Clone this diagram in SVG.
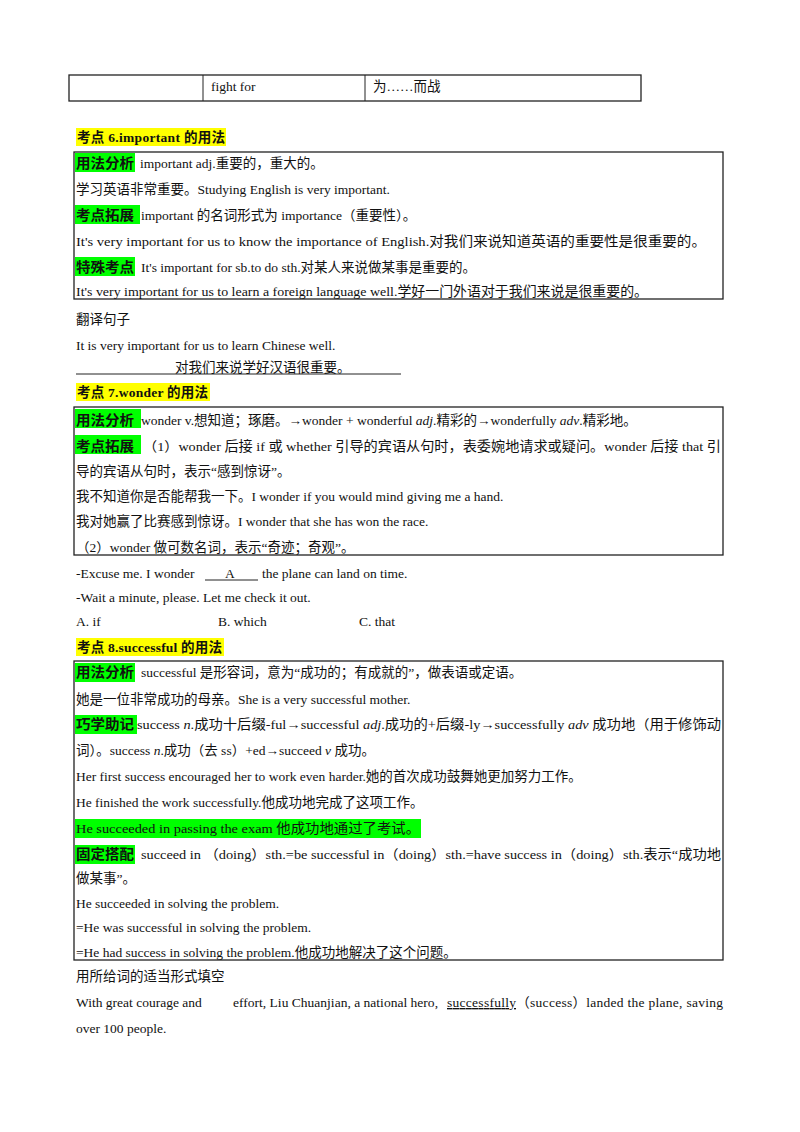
<svg xmlns="http://www.w3.org/2000/svg" width="800" height="1132" viewBox="0 0 800 1132">
<style>
text{font-family:"Liberation Serif","Noto Sans CJK SC",serif;font-size:13.5px;fill:#111}
.b{font-weight:bold}
.box{fill:none;stroke:#222;stroke-width:1.3}
.y{fill:#ffff00}
.g{fill:#00ff00}
.it{font-style:italic}
.u{text-decoration:underline}
</style>
<rect width="800" height="1132" fill="#fff"/>
<g id="table">
<rect class="box" x="69" y="75" width="572" height="26"/>
<line x1="203" y1="75" x2="203" y2="101" stroke="#222"/>
<line x1="365" y1="75" x2="365" y2="101" stroke="#222"/>
<text x="211" y="91">fight for</text>
<text x="373" y="91">为……而战</text>
</g>
<g id="sec6">
<rect class="y" x="76" y="128" width="150" height="18"/>
<text class="b" x="77" y="142" textLength="148">考点 6.important 的用法</text>
<rect class="box" x="74" y="152" width="649" height="147"/>
<rect class="g" x="75" y="153" width="60" height="19"/>
<rect class="g" x="75" y="205" width="65" height="19"/>
<rect class="g" x="75" y="257" width="60" height="19"/>
<text class="b" x="76" y="168" textLength="58" lengthAdjust="spacingAndGlyphs">用法分析</text>
<text x="140" y="168">important adj.重要的，重大的。</text>
<text x="76" y="194">学习英语非常重要。Studying English is very important.</text>
<text class="b" x="76" y="220" textLength="58" lengthAdjust="spacingAndGlyphs">考点拓展</text>
<text x="141" y="220">important 的名词形式为 importance（重要性）。</text>
<text x="76" y="246" textLength="630" lengthAdjust="spacingAndGlyphs">It's very important for us to know the importance of English.对我们来说知道英语的重要性是很重要的。</text>
<text class="b" x="76" y="272" textLength="58" lengthAdjust="spacingAndGlyphs">特殊考点</text>
<text x="141" y="272">It's important for sb.to do sth.对某人来说做某事是重要的。</text>
<text x="76" y="296" textLength="572" lengthAdjust="spacingAndGlyphs">It's very important for us to learn a foreign language well.学好一门外语对于我们来说是很重要的。</text>
<text x="76" y="324">翻译句子</text>
<text x="76" y="350">It is very important for us to learn Chinese well.</text>
<line x1="76" y1="374" x2="401" y2="374" stroke="#222"/>
<text x="175" y="372">对我们来说学好汉语很重要。</text>
</g>
<g id="sec7">
<rect class="y" x="76" y="383" width="134" height="18"/>
<text class="b" x="77" y="397" textLength="131">考点 7.wonder 的用法</text>
<rect class="box" x="74" y="407" width="649" height="148"/>
<rect class="g" x="75" y="409" width="66" height="19"/>
<rect class="g" x="75" y="435" width="66" height="19"/>
<text class="b" x="76" y="425" textLength="58" lengthAdjust="spacingAndGlyphs">用法分析</text>
<text x="141" y="425">wonder v.想知道；琢磨。→wonder + wonderful <tspan class="it">adj</tspan>.精彩的→wonderfully <tspan class="it">adv</tspan>.精彩地。</text>
<text class="b" x="76" y="451" textLength="58" lengthAdjust="spacingAndGlyphs">考点拓展</text>
<text x="143" y="451" textLength="578" lengthAdjust="spacingAndGlyphs">（1）wonder 后接 if 或 whether 引导的宾语从句时，表委婉地请求或疑问。wonder 后接 that 引</text>
<text x="76" y="476">导的宾语从句时，表示“感到惊讶”。</text>
<text x="76" y="501">我不知道你是否能帮我一下。I wonder if you would mind giving me a hand.</text>
<text x="76" y="526">我对她赢了比赛感到惊讶。I wonder that she has won the race.</text>
<text x="76" y="552">（2）wonder 做可数名词，表示“奇迹；奇观”。</text>
<text x="76" y="578">-Excuse me. I wonder</text>
<line x1="205" y1="580" x2="258" y2="580" stroke="#222"/>
<text x="225" y="578">A</text>
<text x="262" y="578">the plane can land on time.</text>
<text x="76" y="602">-Wait a minute, please. Let me check it out.</text>
<text x="76" y="626">A. if</text>
<text x="218" y="626">B. which</text>
<text x="359" y="626">C. that</text>
</g>
<g id="sec8">
<rect class="y" x="76" y="638" width="148" height="18"/>
<text class="b" x="77" y="652" textLength="145">考点 8.successful 的用法</text>
<rect class="box" x="74" y="661" width="649" height="299"/>
<rect class="g" x="75" y="663" width="60" height="19"/>
<rect class="g" x="75" y="715" width="62" height="19"/>
<rect class="g" x="75" y="819" width="346" height="19"/>
<rect class="g" x="75" y="845" width="60" height="19"/>
<text class="b" x="76" y="677" textLength="58" lengthAdjust="spacingAndGlyphs">用法分析</text>
<text x="141" y="677">successful 是形容词，意为“成功的；有成就的”，做表语或定语。</text>
<text x="76" y="704">她是一位非常成功的母亲。She is a very successful mother.</text>
<text class="b" x="76" y="729" textLength="58" lengthAdjust="spacingAndGlyphs">巧学助记</text>
<text x="137" y="729" textLength="584" lengthAdjust="spacingAndGlyphs">success <tspan class="it">n</tspan>.成功十后缀-ful→successful <tspan class="it">adj</tspan>.成功的+后缀-ly→successfully <tspan class="it">adv</tspan> 成功地（用于修饰动</text>
<text x="76" y="755">词）。success <tspan class="it">n</tspan>.成功（去 ss）+ed→succeed <tspan class="it">v</tspan> 成功。</text>
<text x="76" y="781">Her first success encouraged her to work even harder.她的首次成功鼓舞她更加努力工作。</text>
<text x="76" y="807">He finished the work successfully.他成功地完成了这项工作。</text>
<text x="76" y="833" textLength="344" lengthAdjust="spacingAndGlyphs">He succeeded in passing the exam 他成功地通过了考试。</text>
<text class="b" x="76" y="859" textLength="58" lengthAdjust="spacingAndGlyphs">固定搭配</text>
<text x="141" y="859" textLength="580" lengthAdjust="spacingAndGlyphs">succeed in （doing）sth.=be successful in（doing）sth.=have success in（doing）sth.表示“成功地</text>
<text x="76" y="883">做某事”。</text>
<text x="76" y="908">He succeeded in solving the problem.</text>
<text x="76" y="932">=He was successful in solving the problem.</text>
<text x="76" y="957">=He had success in solving the problem.他成功地解决了这个问题。</text>
<text x="76" y="981">用所给词的适当形式填空</text>
<text x="76" y="1007">With great courage and</text>
<text x="233" y="1007" textLength="205">effort, Liu Chuanjian, a national hero,</text>
<text x="447" y="1007" textLength="276"><tspan class="u">successfully</tspan>（success）landed the plane, saving</text>
<text x="76" y="1033">over 100 people.</text>
</g>
</svg>
